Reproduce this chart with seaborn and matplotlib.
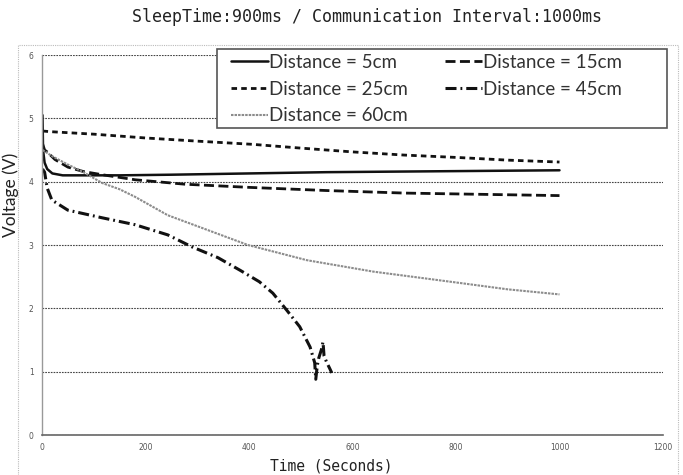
import matplotlib
matplotlib.use('Agg')
import matplotlib.pyplot as plt
import numpy as np
import pandas as pd
import seaborn as sns
from matplotlib.patches import Rectangle

# data (time in s, voltage in V)
t_5 = [1, 2, 5, 10, 20, 40, 80, 150, 250, 400, 550, 700, 850, 1000]
v_5 = [5.05, 4.5, 4.3, 4.2, 4.13, 4.1, 4.1, 4.1, 4.11, 4.13, 4.15, 4.16, 4.17, 4.18]

t_15 = [1, 5, 10, 25, 50, 80, 116, 180, 276, 400, 550, 700, 850, 1000]
v_15 = [4.6, 4.5, 4.47, 4.35, 4.23, 4.16, 4.11, 4.03, 3.96, 3.91, 3.86, 3.82, 3.8, 3.78]

t_25 = [1, 15, 100, 200, 300, 406, 500, 600, 700, 808, 900, 1000]
v_25 = [4.8, 4.79, 4.75, 4.69, 4.64, 4.59, 4.53, 4.47, 4.42, 4.38, 4.34, 4.31]

t_45 = [1, 5, 10, 19, 50, 116, 180, 243, 290, 340, 383, 420, 446, 473, 498, 518, 527,
        529, 532, 535, 540, 543, 545, 550, 556, 560]
v_45 = [4.2, 4.15, 3.9, 3.71, 3.55, 3.43, 3.32, 3.16, 2.97, 2.8, 2.6, 2.42, 2.24, 1.97, 1.71, 1.39, 1.14,
        0.88, 1.1, 1.22, 1.35, 1.47, 1.25, 1.15, 1.05, 0.98]

t_60 = [1, 5, 20, 50, 80, 116, 150, 180, 243, 309, 398, 512, 640, 808, 900, 1000]
v_60 = [4.5, 4.48, 4.4, 4.27, 4.15, 3.98, 3.88, 3.76, 3.47, 3.27, 3.0, 2.76, 2.58, 2.4, 2.3, 2.22]

labels = ['Distance = 5cm', 'Distance = 15cm', 'Distance = 25cm', 'Distance = 45cm', 'Distance = 60cm']
x_ticks = [0, 200, 400, 600, 800, 1000, 1200]
y_ticks = [0, 1, 2, 3, 4, 5, 6]

sns.set_style('white')
plt.rcParams['font.family'] = ['DejaVu Sans']

fig = plt.figure(figsize=(6.83, 4.75), dpi=100)
ax = fig.add_axes([0.0615, 0.0842, 0.9092, 0.80])

series = [
    (t_5, v_5, labels[0], dict(color='#111111', lw=1.8, linestyle='-')),
    (t_15, v_15, labels[1], dict(color='#111111', lw=2.0, linestyle=(0, (3.6, 1.6)))),
    (t_25, v_25, labels[2], dict(color='#111111', lw=2.0, linestyle=(0, (2.0, 1.5)))),
    (t_45, v_45, labels[3], dict(color='#111111', lw=2.2, linestyle=(0, (3.6, 1.3, 0.6, 1.3)))),
    (t_60, v_60, labels[4], dict(color='#8c8c8c', lw=1.5, linestyle=(0, (1.2, 0.5)))),
]
for t, v, lab, kw in series:
    df = pd.DataFrame({'t': t, 'v': v})
    sns.lineplot(data=df, x='t', y='v', ax=ax, label=lab, sort=False, estimator=None, **kw)

ax.set_xlim(0, 1200)
ax.set_ylim(0, 6)
ax.set_xticks(x_ticks)
ax.set_yticks(y_ticks)
ax.set_xlabel('')
ax.set_ylabel('')
ax.tick_params(axis='both', labelsize=5.5, colors='#555555', length=2.5, width=0.6)
ax.grid(axis='y', color='#444444', lw=0.8, linestyle=(0, (1.5, 1.0)))
ax.set_axisbelow(True)
for s in ['top', 'right']:
    ax.spines[s].set_visible(False)
ax.spines['left'].set_color('#999999')
ax.spines['left'].set_linewidth(1.0)
ax.spines['bottom'].set_color('#666666')
ax.spines['bottom'].set_linewidth(1.2)

# legend frame drawn separately (px 217..667 x 49..128), wider than the entries
ax.add_patch(Rectangle((0.282, 0.808), 0.724, 0.208, transform=ax.transAxes, clip_on=False,
                       facecolor='white', edgecolor='#555555', lw=1.2, zorder=4.5))

# legend filled row by row like the reference (matplotlib fills by column)
handles, labs = ax.get_legend_handles_labels()
order = [0, 2, 4, 1, 3]
leg = ax.legend([handles[i] for i in order], [labs[i] for i in order],
                loc='upper left', bbox_to_anchor=(0.293, 1.023), ncol=2,
                prop={'family': 'Lato', 'size': 13.5}, frameon=False,
                handlelength=1.95, handletextpad=0.05, columnspacing=2.0, labelspacing=0.52,
                borderpad=0.4, borderaxespad=0.0)
for txt in leg.get_texts():
    txt.set_color('#333333')

# outer chart border
fig.patches.append(Rectangle((18 / 683, -0.05), 660 / 683, 1 - 45 / 475 + 0.05, transform=fig.transFigure,
                             fill=False, edgecolor='#bbbbbb', lw=0.8, linestyle=(0, (1, 1))))

fig.text(0.537, 0.964, 'SleepTime:900ms / Communication Interval:1000ms', ha='center', va='center',
         fontsize=12, family='DejaVu Sans Mono', color='#222222')
fig.text(0.015, 0.59, 'Voltage (V)', rotation=90, ha='center', va='center', fontsize=12.5,
         family='Lato', color='#222222')
fig.text(0.485, 0.004, 'Time (Seconds)', ha='center', va='bottom', fontsize=10.5,
         family='DejaVu Sans Mono', color='#222222')

fig.savefig('out.png', dpi=100)
